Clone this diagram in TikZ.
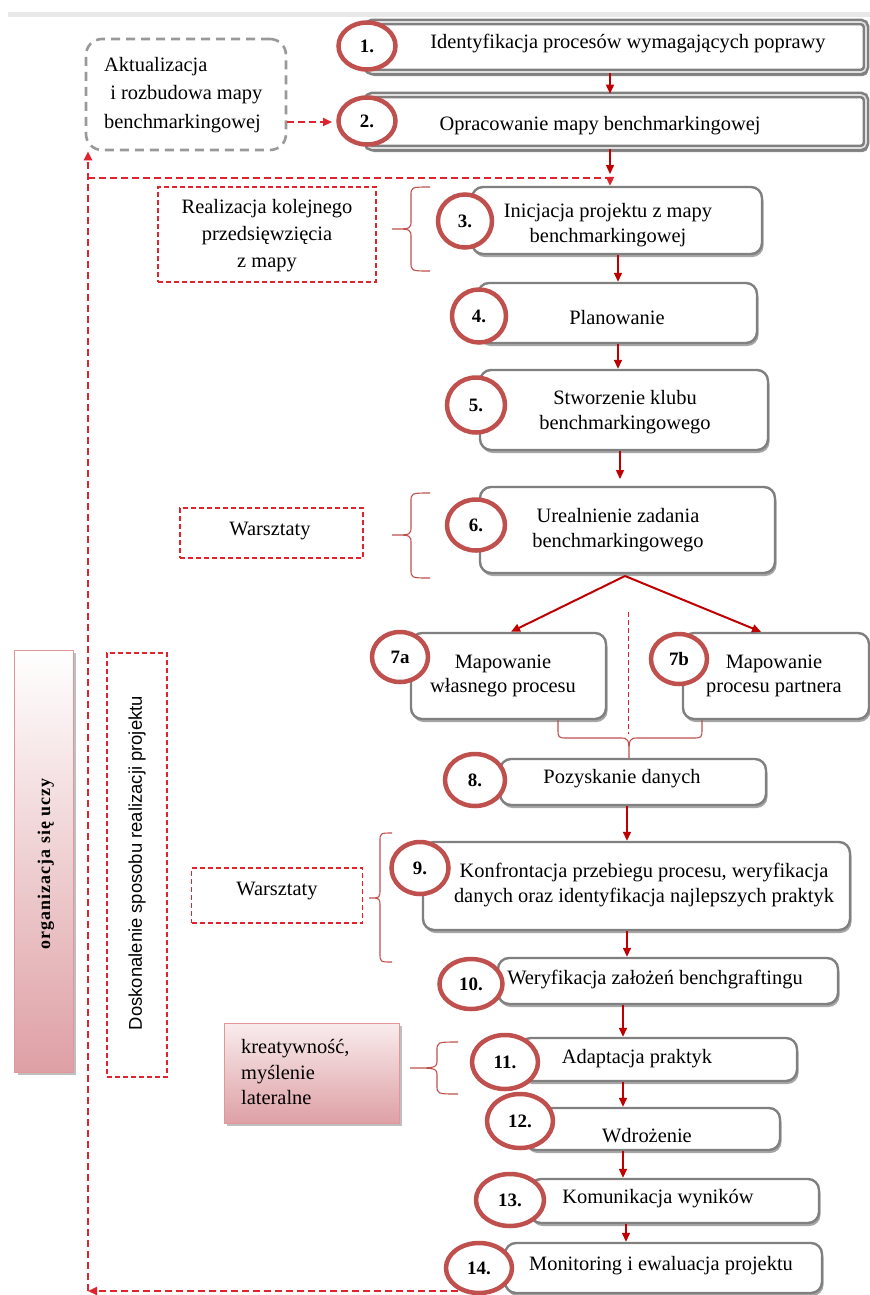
\documentclass[tikz,border=0pt]{standalone}
\usepackage{fontspec}
\setmainfont{Liberation Serif}
\setsansfont{Liberation Sans}
\usetikzlibrary{arrows.meta,shapes.geometric,shadows,calc}

\definecolor{circred}{RGB}{192,80,77}
\definecolor{arrred}{RGB}{192,0,0}
\definecolor{dred}{RGB}{225,35,45}
\definecolor{boxgray}{RGB}{128,128,128}
\definecolor{pinkb}{RGB}{222,160,165}
\definecolor{pinkedge}{RGB}{225,150,155}

% curly brace opening to the right, tip pointing left:
% #1 x of the ends, #2 top y, #3 bottom y, #4 x of the spine, #5 x of the tip, #6 y of the tip
\newcommand{\sidebrace}[6]{%
  \draw[bracel] (#1,#2) .. controls (#4,#2) .. (#4,#2+9) -- (#4,#6-9)
    .. controls (#4,#6) .. (#5,#6) .. controls (#4,#6) .. (#4,#6+9)
    -- (#4,#3-9) .. controls (#4,#3) .. (#1,#3);}

\begin{document}
\begin{tikzpicture}[x=1bp,y=-1bp,
  every node/.style={font=\fontsize{20.5}{24.5}\selectfont, inner sep=0pt},
  stepbox/.style={draw=boxgray, line width=2.4bp, fill=white, rounded corners=11bp,
    drop shadow={shadow xshift=1.5bp, shadow yshift=-3bp, opacity=0.35, fill=black}},
  topbox/.style={draw=boxgray, line width=2.6bp, double=gray!25, double distance=1.6bp,
    fill=white, rounded corners=5bp,
    drop shadow={shadow xshift=2bp, shadow yshift=-4bp, opacity=0.45, fill=black}},
  numc/.style={ellipse, draw=circred, line width=4.5bp, fill=white,
    font=\fontsize{19}{22}\selectfont\bfseries},
  arr/.style={draw=arrred, line width=1.4bp, -{Triangle[length=9bp,width=8bp]}},
  fb/.style={draw=dred, line width=2bp, dash pattern=on 7bp off 4bp},
  fbarr/.style={fb, -{Triangle[length=9bp,width=8bp]}},
  dbox/.style={draw=dred, line width=1.4bp, dash pattern=on 5bp off 3bp, fill=white},
  pinkbox/.style={draw=pinkedge, line width=1bp,
    drop shadow={shadow xshift=3bp, shadow yshift=-3bp, opacity=0.5, fill=gray}},
  bracel/.style={draw=circred, line width=1.1bp},
]
\useasboundingbox (0,0) rectangle (870,1295);
\fill[white] (0,0) rectangle (870,1295);
\fill[gray!18] (8,12) rectangle (870,17);

% ---------- process boxes ----------
\node[topbox, minimum width=499bp, minimum height=50bp] (b1) at (616.5,47) {};
\node[topbox, minimum width=499bp, minimum height=53bp] (b2) at (616.5,121.5) {};
\node[stepbox, minimum width=290bp, minimum height=67bp] (b3) at (617,220.5) {};
\node[stepbox, minimum width=279bp, minimum height=60bp] (b4) at (617.5,313) {};
\node[stepbox, minimum width=288bp, minimum height=80bp] (b5) at (624,410) {};
\node[stepbox, minimum width=295bp, minimum height=86bp] (b6) at (627.5,530) {};
\node[stepbox, minimum width=195bp, minimum height=86bp] (b7a) at (508.5,676) {};
\node[stepbox, minimum width=186bp, minimum height=86bp] (b7b) at (776,676) {};
\node[stepbox, minimum width=266bp, minimum height=46bp] (b8) at (633,782) {};
\node[stepbox, minimum width=427bp, minimum height=88bp] (b9) at (636.5,886) {};
\node[stepbox, minimum width=340bp, minimum height=46bp] (b10) at (668,981) {};
\node[stepbox, minimum width=277bp, minimum height=43bp] (b11) at (658.5,1059.5) {};
\node[stepbox, minimum width=255bp, minimum height=42bp] (b12) at (652.5,1129) {};
\node[stepbox, minimum width=289bp, minimum height=44bp] (b13) at (674.5,1201) {};
\node[stepbox, minimum width=317bp, minimum height=50bp] (b14) at (663.5,1268) {};

% ---------- side boxes ----------
\node[draw=gray!80, line width=2.6bp, dash pattern=on 9bp off 6bp, rounded corners=16bp,
  minimum width=200bp, minimum height=111bp] (akt) at (186,94.5) {};
\node[align=left, anchor=west, font=\fontsize{20.5}{28.5}\selectfont] (aktt) at (104,95)
  {Aktualizacja\\\hspace{0.3em}i rozbudowa mapy\\benchmarkingowej};

\node[dbox, minimum width=218bp, minimum height=95bp] (real) at (267,234.5) {};
\node[align=center, font=\fontsize{20.5}{27}\selectfont] (realt) at (267,236)
  {Realizacja kolejnego\\przedsięwzięcia\\z mapy};

\node[dbox, minimum width=183bp, minimum height=50bp] (war1) at (271.5,533) {};
\node (war1t) at (270,531) {Warsztaty};
\node[dbox, minimum width=171bp, minimum height=55bp] (war2) at (277,895.5) {};
\node (war2t) at (277,891) {Warsztaty};

\node[pinkbox, top color=white, bottom color=pinkb, minimum width=58bp, minimum height=422bp]
  (org) at (44,861) {};
\node[rotate=90, font=\fontsize{18}{22}\selectfont\bfseries\addfontfeature{LetterSpace=6}]
  (orgt) at (46,864) {organizacja się uczy};

\node[dbox, minimum width=60bp, minimum height=424bp] (dosk) at (137,865) {};
\node[rotate=90, font=\sffamily\fontsize{18.5}{22}\selectfont] (doskt) at (137,863)
  {Doskonalenie sposobu realizacji projektu};

\node[pinkbox, top color=pinkb!20, bottom color=pinkb, minimum width=175bp, minimum height=100bp]
  (kreat) at (311.5,1073) {};
\node[align=left, anchor=west, font=\fontsize{20.5}{25.5}\selectfont] (kreatt) at (241,1072)
  {kreatywność,\\myślenie\\lateralne};

% ---------- braces ----------
\sidebrace{430}{187}{271}{411}{392}{229}
\sidebrace{430}{493}{578}{411}{392}{535}
\sidebrace{392}{833}{962}{380}{369}{898}
\sidebrace{458}{1042}{1094}{437}{410}{1068}
\draw[bracel] (b7a.south -| 558,0) -- (558,728) .. controls (558,738) .. (568,738) -- (619,738)
  .. controls (629,738) .. (629,758) .. controls (629,738) .. (639,738) -- (692,738)
  .. controls (702,738) .. (702,728) -- (b7b.south -| 702,0);
\draw[draw=dred, line width=1bp, dash pattern=on 5bp off 3bp] (628,612) -- (628,734);

% ---------- feedback loop ----------
\coordinate (ctop) at (88,178);
\coordinate (cbot) at (88,1291);
\coordinate (jn) at (610,178);
\draw[fbarr] (akt.east |- 0,122) -- (332,122);
\draw[fbarr] (458,1291) -- (cbot);
\draw[fbarr] (cbot) -- (akt.south -| cbot);
\draw[fbarr] (ctop) -- (jn) -- (b3.north -| jn);

% ---------- flow arrows ----------
\draw[arr] (b1.south -| 610,0) -- (b2.north -| 610,0);
\draw[arr] (b2.south -| jn) -- ([yshift=4bp]jn);
\draw[arr] (b3.south -| 618,0) -- (b4.north -| 618,0);
\draw[arr] (b4.south -| 618,0) -- (b5.north -| 618,0);
\draw[arr] (b5.south -| 620,0) -- (620,479);
\draw[arr, line width=2bp] (625,576) -- (b7a.north -| 511,0);
\draw[arr, line width=2bp] (625,576) -- (b7b.north -| 761,0);
\draw[arr] (b8.south -| 627,0) -- (b9.north -| 627,0);
\draw[arr] (b9.south -| 627,0) -- (b10.north -| 627,0);
\draw[arr] (b10.south -| 623,0) -- (b11.north -| 623,0);
\draw[arr] (b11.south -| 623,0) -- (b12.north -| 623,0);
\draw[arr] (b12.south -| 623,0) -- (b13.north -| 623,0);
\draw[arr] (b13.south -| 626,0) -- (b14.north -| 626,0);

% ---------- numbered circles ----------
\node[numc, minimum width=57bp, minimum height=47bp] (c1) at (367,46) {1.};
\node[numc, minimum width=57bp, minimum height=47bp] (c2) at (367,121) {2.};
\node[numc, minimum width=54bp, minimum height=53bp] (c3) at (465,221) {3.};
\node[numc, minimum width=54bp, minimum height=53bp] (c4) at (479,316) {4.};
\node[numc, minimum width=58bp, minimum height=55bp] (c5) at (476,405) {5.};
\node[numc, minimum width=58bp, minimum height=51bp] (c6) at (476,525) {6.};
\node[numc, minimum width=56bp, minimum height=50bp] (c7a) at (400,657) {7a};
\node[numc, minimum width=56bp, minimum height=50bp] (c7b) at (679,659) {7b};
\node[numc, minimum width=60bp, minimum height=52bp] (c8) at (475,780) {8.};
\node[numc, minimum width=57bp, minimum height=52bp] (c9) at (420,868) {9.};
\node[numc, minimum width=63bp, minimum height=50bp] (c10) at (471,984) {10.};
\node[numc, minimum width=66bp, minimum height=54bp] (c11) at (505,1062) {11.};
\node[numc, minimum width=66bp, minimum height=54bp] (c12) at (520,1121) {12.};
\node[numc, minimum width=68bp, minimum height=52bp] (c13) at (510,1200) {13.};
\node[numc, minimum width=66bp, minimum height=50bp] (c14) at (479,1268) {14.};

% ---------- step texts ----------
\node (t1) at (628,44) {Identyfikacja procesów wymagających poprawy};
\node (t2) at (600,126) {Opracowanie mapy benchmarkingowej};
\node[align=center] (t3) at (608,225) {Inicjacja projektu z mapy\\benchmarkingowej};
\node (t4) at (617,318) {Planowanie};
\node[align=center] (t5) at (625,412) {Stworzenie klubu\\benchmarkingowego};
\node[align=center] (t6) at (618,530) {Urealnienie zadania\\benchmarkingowego};
\node[align=center] (t7a) at (503,676) {Mapowanie\\własnego procesu};
\node[align=center] (t7b) at (774,676) {Mapowanie\\procesu partnera};
\node (t8) at (622,779) {Pozyskanie danych};
\node[align=center] (t9) at (644,885) {Konfrontacja przebiegu procesu, weryfikacja\\danych oraz identyfikacja najlepszych praktyk};
\node (t10) at (655,979) {Weryfikacja założeń benchgraftingu};
\node (t11) at (637,1059) {Adaptacja praktyk};
\node (t12) at (647,1136) {Wdrożenie};
\node (t13) at (658,1199) {Komunikacja wyników};
\node (t14) at (661,1266) {Monitoring i ewaluacja projektu};
\end{tikzpicture}
\end{document}
